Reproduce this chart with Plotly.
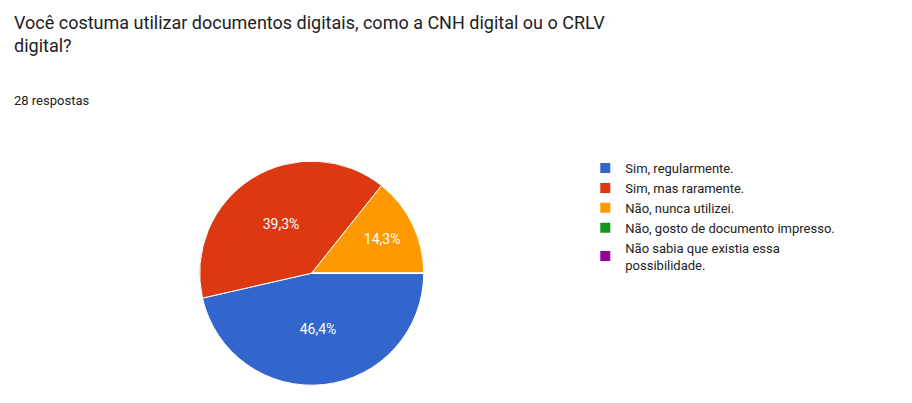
import plotly.graph_objects as go

labels = ["Sim, regularmente.", "Sim, mas raramente.", "Não, nunca utilizei.",
          "Não, gosto de documento impresso.", "Não sabia que existia essa<br>possibilidade."]
values = [13, 11, 4, 0, 0]
colors = ["#3366cc", "#dc3912", "#ff9900", "#109618", "#990099"]

fig = go.Figure(go.Pie(
    labels=labels, values=values, sort=False, direction="clockwise", rotation=90,
    marker=dict(colors=colors, line=dict(color="white", width=1)),
    texttemplate="%{percent:.1%}", textposition="inside",
    textfont=dict(color="white", size=14, family="Roboto"),
    insidetextorientation="horizontal",
    domain=dict(x=[0.21, 0.456], y=[0.064, 0.62]),
))

fig.update_layout(
    width=912, height=403, margin=dict(l=0, r=0, t=0, b=0),
    paper_bgcolor="white", separators=",.",
    font=dict(family="Roboto", color="#202124"),
    legend=dict(x=0.633, y=0.64, xanchor="left", yanchor="top",
                font=dict(size=13, color="#222"), tracegroupgap=0,
                itemsizing="constant"),
    annotations=[
        dict(text="Você costuma utilizar documentos digitais, como a CNH digital ou o CRLV<br>digital?",
             x=0.004, y=0.995, xref="paper", yref="paper", xanchor="left", yanchor="top",
             align="left", showarrow=False, font=dict(size=18, color="#202124")),
        dict(text="28 respostas", x=0.004, y=0.77, xref="paper", yref="paper",
             xanchor="left", yanchor="middle", showarrow=False,
             font=dict(size=13, color="#202124")),
    ],
)

fig.write_html("out.html")
